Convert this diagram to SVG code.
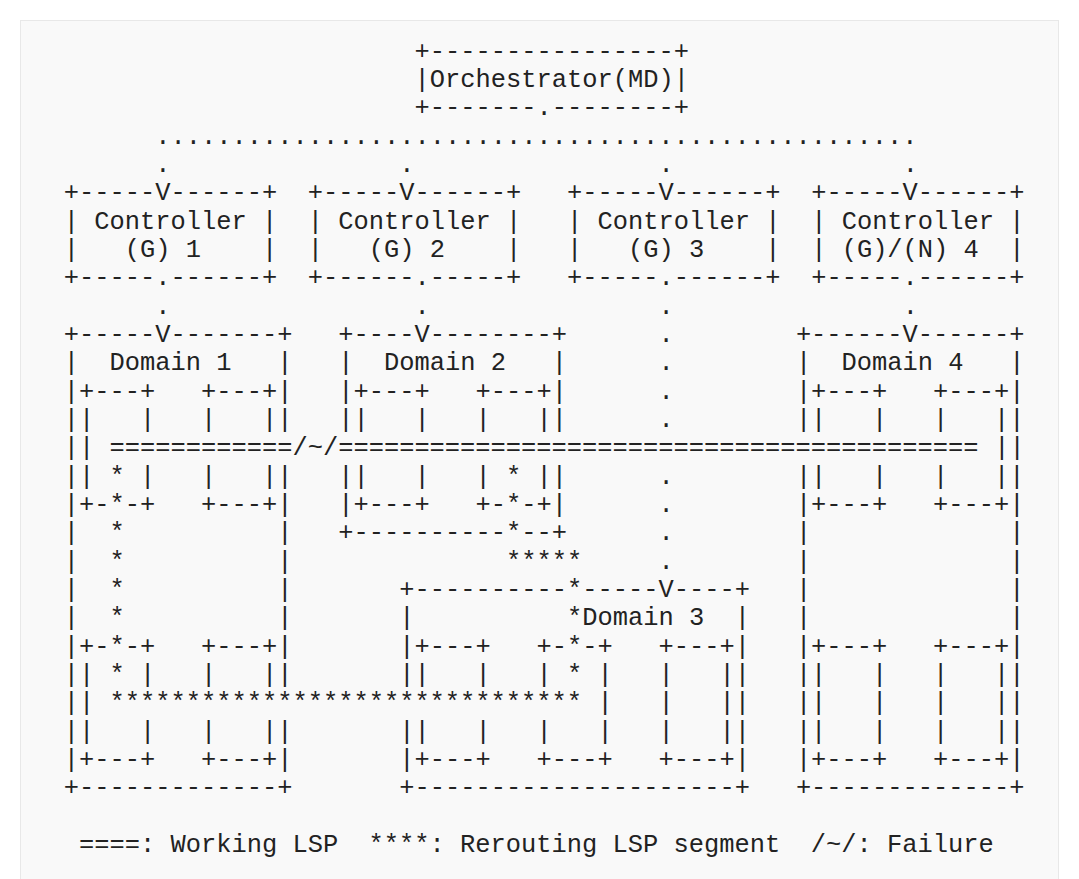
<svg xmlns="http://www.w3.org/2000/svg" width="1079" height="879" viewBox="0 0 1079 879" xml:space="preserve">
<style>
text { font-family: "Liberation Mono", "DejaVu Sans Mono", monospace; font-size: 25.42px; fill: #222222; white-space: pre; }
</style>
<rect x="0" y="0" width="1079" height="879" fill="#ffffff"/>
<rect x="20.5" y="20.5" width="1038" height="880" fill="#f9f9f9" stroke="#e8e8e8"/>

<g id="orchestrator">
<text x="414.54" y="58.5">+----------------+</text>
<text x="414.54" y="86.83">|Orchestrator(MD)|</text>
<text x="414.54" y="115.17">+-------.--------+</text>
</g>

<g id="connectors">
<text x="155.22" y="143.5">..................................................</text>
<text x="155.22" y="171.83">.</text>
<text x="399.29" y="171.83">.</text>
<text x="658.61" y="171.83">.</text>
<text x="902.67" y="171.83">.</text>
<text x="155.22" y="313.5">.</text>
<text x="414.54" y="313.5">.</text>
<text x="658.61" y="313.5">.</text>
<text x="902.67" y="313.5">.</text>
<text x="658.61" y="341.83">.</text>
<text x="658.61" y="370.17">.</text>
<text x="658.61" y="398.5">.</text>
<text x="658.61" y="426.83">.</text>
<text x="658.61" y="483.5">.</text>
<text x="658.61" y="511.83">.</text>
<text x="658.61" y="540.17">.</text>
<text x="658.61" y="568.5">.</text>
</g>

<g id="controller1">
<text x="63.7" y="200.17">+-----V------+</text>
<text x="63.7" y="228.5">| Controller |</text>
<text x="63.7" y="256.83">|   (G) 1    |</text>
<text x="63.7" y="285.17">+-----.------+</text>
</g>

<g id="controller2">
<text x="307.76" y="200.17">+-----V------+</text>
<text x="307.76" y="228.5">| Controller |</text>
<text x="307.76" y="256.83">|   (G) 2    |</text>
<text x="307.76" y="285.17">+------.-----+</text>
</g>

<g id="controller3">
<text x="567.08" y="200.17">+-----V------+</text>
<text x="567.08" y="228.5">| Controller |</text>
<text x="567.08" y="256.83">|   (G) 3    |</text>
<text x="567.08" y="285.17">+-----.------+</text>
</g>

<g id="controller4">
<text x="811.15" y="200.17">+-----V------+</text>
<text x="811.15" y="228.5">| Controller |</text>
<text x="811.15" y="256.83">| (G)/(N) 4  |</text>
<text x="811.15" y="285.17">+-----.------+</text>
</g>

<g id="domain1">
<text x="63.7" y="341.83">+-----V-------+</text>
<text x="63.7" y="370.17">|  Domain 1   |</text>
<text x="63.7" y="398.5">|+---+   +---+|</text>
<text x="63.7" y="426.83">||   |   |   ||</text>
<text x="63.7" y="455.17">||</text>
<text x="63.7" y="483.5">|| * |   |   ||</text>
<text x="63.7" y="511.83">|+-*-+   +---+|</text>
<text x="63.7" y="540.17">|  *          |</text>
<text x="63.7" y="568.5">|  *          |</text>
<text x="63.7" y="596.83">|  *          |</text>
<text x="63.7" y="625.17">|  *          |</text>
<text x="63.7" y="653.5">|+-*-+   +---+|</text>
<text x="63.7" y="681.83">|| * |   |   ||</text>
<text x="63.7" y="710.17">||</text>
<text x="63.7" y="738.5">||   |   |   ||</text>
<text x="63.7" y="766.83">|+---+   +---+|</text>
<text x="63.7" y="795.17">+-------------+</text>
</g>

<g id="domain2">
<text x="338.27" y="341.83">+----V--------+</text>
<text x="338.27" y="370.17">|  Domain 2   |</text>
<text x="338.27" y="398.5">|+---+   +---+|</text>
<text x="338.27" y="426.83">||   |   |   ||</text>
<text x="338.27" y="483.5">||   |   | * ||</text>
<text x="338.27" y="511.83">|+---+   +-*-+|</text>
<text x="338.27" y="540.17">+----------*--+</text>
</g>

<g id="domain3">
<text x="399.29" y="596.83">+----------*-----V----+</text>
<text x="399.29" y="625.17">|          *Domain 3  |</text>
<text x="399.29" y="653.5">|+---+   +-*-+   +---+|</text>
<text x="399.29" y="681.83">||   |   | * |   |   ||</text>
<text x="597.59" y="710.17">|   |   ||</text>
<text x="399.29" y="738.5">||   |   |   |   |   ||</text>
<text x="399.29" y="766.83">|+---+   +---+   +---+|</text>
<text x="399.29" y="795.17">+---------------------+</text>
</g>

<g id="domain4">
<text x="795.89" y="341.83">+------V------+</text>
<text x="795.89" y="370.17">|  Domain 4   |</text>
<text x="795.89" y="398.5">|+---+   +---+|</text>
<text x="795.89" y="426.83">||   |   |   ||</text>
<text x="994.19" y="455.17">||</text>
<text x="795.89" y="483.5">||   |   |   ||</text>
<text x="795.89" y="511.83">|+---+   +---+|</text>
<text x="795.89" y="540.17">|             |</text>
<text x="795.89" y="568.5">|             |</text>
<text x="795.89" y="596.83">|             |</text>
<text x="795.89" y="625.17">|             |</text>
<text x="795.89" y="653.5">|+---+   +---+|</text>
<text x="795.89" y="681.83">||   |   |   ||</text>
<text x="795.89" y="710.17">||   |   |   ||</text>
<text x="795.89" y="738.5">||   |   |   ||</text>
<text x="795.89" y="766.83">|+---+   +---+|</text>
<text x="795.89" y="795.17">+-------------+</text>
</g>

<g id="lsp-paths">
<text x="109.46" y="455.17">============/~/==========================================</text>
<text x="506.07" y="568.5">*****</text>
<text x="109.46" y="710.17">*******************************</text>
</g>

<g id="legend">
<text x="78.95" y="851.83">====: Working LSP  ****: Rerouting LSP segment  /~/: Failure</text>
</g>
</svg>
